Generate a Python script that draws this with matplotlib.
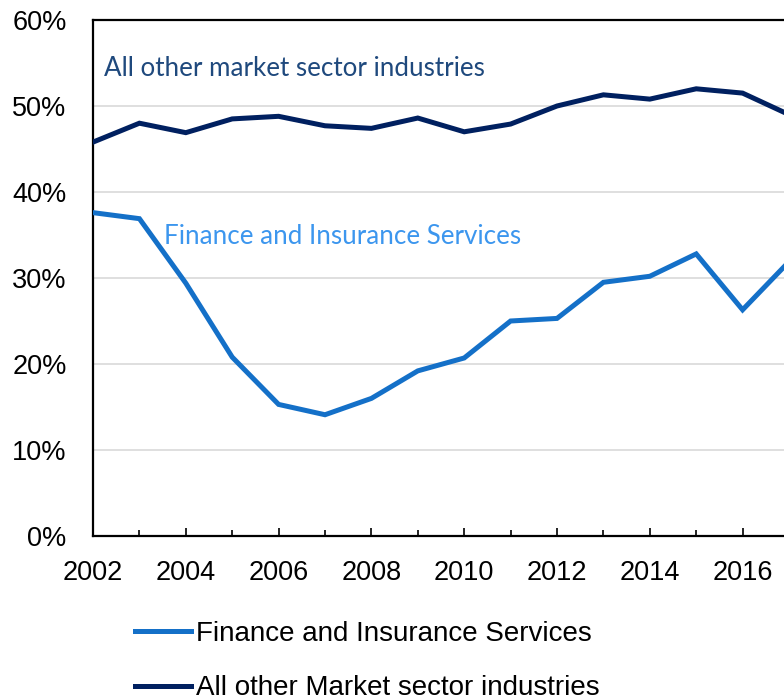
import numpy as np
import matplotlib
matplotlib.use("Agg")
import matplotlib.pyplot as plt
from matplotlib.ticker import MultipleLocator, FuncFormatter

# Participación por año (%)
anios = [2002, 2003, 2004, 2005, 2006, 2007, 2008, 2009, 2010,
         2011, 2012, 2013, 2014, 2015, 2016, 2017]
finanzas = [37.6, 36.9, 29.4, 20.8, 15.3, 14.1, 16.0, 19.2, 20.7,
            25.0, 25.3, 29.5, 30.2, 32.8, 26.3, 31.9]
otrasIndustrias = [45.8, 48.0, 46.9, 48.5, 48.8, 47.7, 47.4, 48.6, 47.0,
                   47.9, 50.0, 51.3, 50.8, 52.0, 51.5, 49.0]

etiquetaFinanzas = "Finance and Insurance Services"
etiquetaOtras = "All other Market sector industries"
textoFinanzas = "Finance and Insurance Services"
textoOtras = "All other market sector industries"

colorFinanzas = "#1470c8"
colorOtras = "#002060"

plt.rcParams["font.family"] = ["Liberation Sans", "DejaVu Sans"]

fig = plt.figure(figsize=(7.84, 7.0), dpi=100)
# el eje termina poco después de 2017, fuera del lienzo
ax = fig.add_axes([93 / 784, 1 - 536 / 700, 15.3 * 46.4 / 784, 516 / 700])

ax.plot(anios, finanzas, color=colorFinanzas, lw=3.6, label=etiquetaFinanzas,
        solid_joinstyle="miter", zorder=3)
ax.plot(anios, otrasIndustrias, color=colorOtras, lw=3.6, label=etiquetaOtras,
        solid_joinstyle="miter", zorder=3)

ax.set_xlim(2002, 2017.3)
ax.set_ylim(0, 60)
ax.xaxis.set_major_locator(MultipleLocator(2))
ax.xaxis.set_minor_locator(MultipleLocator(1))
ax.yaxis.set_major_locator(MultipleLocator(10))
ax.yaxis.set_major_formatter(FuncFormatter(lambda v, p: "{:.0f}%".format(v)))
ax.grid(axis="y", color="#d9d9d9", lw=1.2, zorder=0)
ax.set_axisbelow(True)

ax.tick_params(axis="x", which="major", direction="in", length=6, width=1.2,
               labelsize=19.5, pad=17.5)
ax.tick_params(axis="x", which="minor", direction="in", length=4.5, width=1.2)
ax.tick_params(axis="y", length=0, labelsize=19.5, pad=19)
for lado in ["left", "bottom", "top", "right"]:
    ax.spines[lado].set_linewidth(1.6)
    ax.spines[lado].set_color("black")

# Etiquetas sobre las líneas
ax.text(2002.24, 54.4, textoOtras, color="#1f497d", fontsize=18.7,
        family="Lato", va="center", ha="left")
ax.text(2003.53, 34.8, textoFinanzas, color="#3c96ee", fontsize=18.7,
        family="Lato", va="center", ha="left")

fig.legend(loc="upper left", bbox_to_anchor=(135 / 784, 1 - 621 / 700),
           frameon=False, fontsize=20, handlelength=2.0, handletextpad=0.18,
           labelspacing=1.02, borderaxespad=0, borderpad=0)

fig.savefig("out.png", dpi=100)
